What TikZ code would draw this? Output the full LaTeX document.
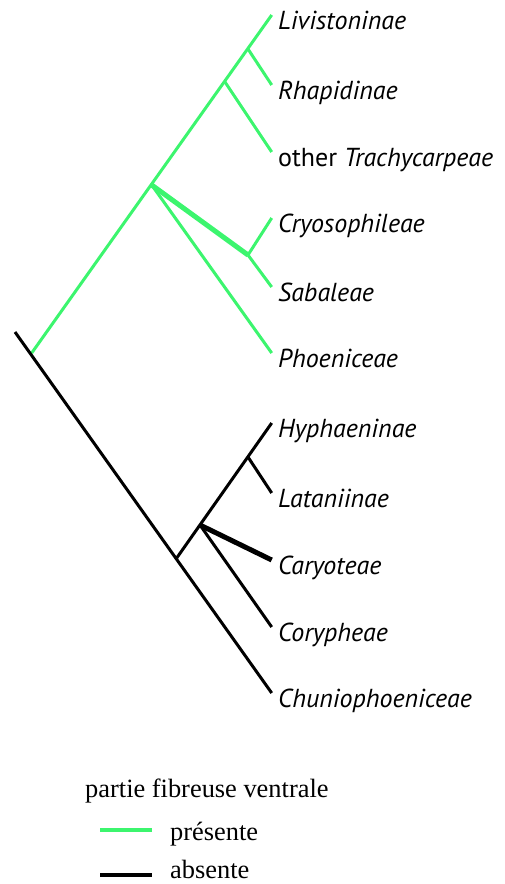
\documentclass[tikz,border=0pt]{standalone}
\usepackage{fontspec}
\setmainfont{Liberation Serif}
\newfontfamily\labfont{PT Sans}
\definecolor{pgreen}{RGB}{60,245,110}
\begin{document}
\begin{tikzpicture}[x=1pt,y=-1pt,
  br/.style={line width=3pt},
  thickbr/.style={line width=5pt},
  gbr/.style={br,draw=pgreen},
  lab/.style={anchor=base west,inner sep=0pt,font=\labfont\fontsize{26}{30}\selectfont\itshape},
  leg/.style={anchor=base west,inner sep=0pt,font=\fontsize{26.4}{30}\selectfont}]
\useasboundingbox (0,0) rectangle (504,884);
% internal nodes
\coordinate (rootstub) at (15,332);
\coordinate (R) at (31.7,353);
\coordinate (C) at (151.7,185);
\coordinate (B) at (225,82);
\coordinate (A) at (248,49);
\coordinate (D) at (248,255);
\coordinate (E) at (176.7,558);
\coordinate (F) at (200,525);
\coordinate (G) at (248,457);
% tips
\coordinate (t1) at (271.7,15);
\coordinate (t2) at (271.7,85);
\coordinate (t3) at (271.7,152);
\coordinate (t4) at (271.7,218);
\coordinate (t5) at (271.7,287);
\coordinate (t6) at (271.7,353);
\coordinate (t7) at (271.7,423);
\coordinate (t8) at (271.7,493);
\coordinate (t9) at (271.7,560);
\coordinate (t10) at (271.7,627);
\coordinate (t11) at (271.7,693);
% green clade
\draw[gbr] (R) -- (t1);
\draw[gbr] (A) -- (t2);
\draw[gbr] (B) -- (t3);
\draw[gbr,line width=5pt] (C) -- (D);
\draw[gbr] (D) -- (t4);
\draw[gbr] (D) -- (t5);
\draw[gbr] (C) -- (t6);
% black clade
\draw[br] (rootstub) -- (t11);
\draw[br] (E) -- (t7);
\draw[br] (G) -- (t8);
\draw[thickbr] (F) -- (t9);
\draw[br] (F) -- (t10);
% labels
\node[lab] (l1) at (278,29) {Livistoninae};
\node[lab] (l2) at (278,99) {Rhapidinae};
\node[lab] (l3) at (278,166) {\upshape other \itshape Trachycarpeae};
\node[lab] (l4) at (278,232) {Cryosophileae};
\node[lab] (l5) at (278,301) {Sabaleae};
\node[lab] (l6) at (278,367) {Phoeniceae};
\node[lab] (l7) at (278,437) {Hyphaeninae};
\node[lab] (l8) at (278,507) {Lataniinae};
\node[lab] (l9) at (278,574) {Caryoteae};
\node[lab] (l10) at (278,641) {Corypheae};
\node[lab] (l11) at (278,707) {Chuniophoeniceae};
% legend
\node[leg] (legt) at (85,797) {partie fibreuse ventrale};
\coordinate (g1) at (100,830);
\coordinate (g2) at (152,830);
\coordinate (k1) at (100,875);
\coordinate (k2) at (152,875);
\draw[line width=4pt,pgreen] (g1) -- (g2);
\draw[line width=4pt,black] (k1) -- (k2);
\node[leg] (lp) at (170,840) {présente};
\node[leg] (la) at (170,878) {absente};
\end{tikzpicture}
\end{document}
